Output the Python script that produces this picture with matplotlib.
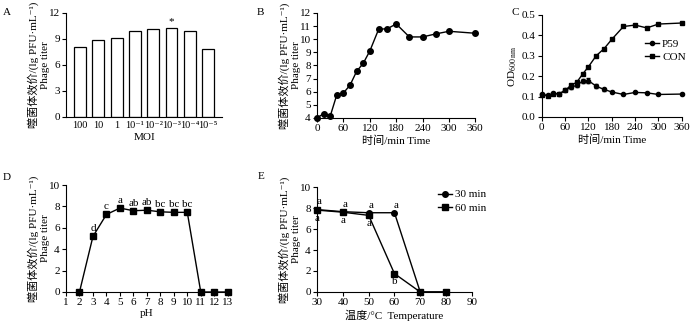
import matplotlib

matplotlib.use("Agg")
import matplotlib.pyplot as plt  # noqa: E402

plt.rcParams["font.family"] = ["Liberation Serif", "Noto Sans CJK SC", "DejaVu Serif"]
plt.rcParams["mathtext.fontset"] = "stix"
plt.rcParams["font.size"] = 8
plt.rcParams["axes.linewidth"] = 0.8
plt.rcParams["xtick.major.size"] = 3
plt.rcParams["ytick.major.size"] = 3
plt.rcParams["xtick.major.pad"] = 1.5
plt.rcParams["ytick.major.pad"] = 1.5

# A: MOI
moi_labels = ["100", "10", "1", "10⁻¹", "10⁻²", "10⁻³", "10⁻⁴", "10⁻⁵"]
moi_titer = [8.1, 8.93, 9.08, 9.89, 10.15, 10.27, 9.96, 7.79]

# B: one-step growth
growth_time = [0, 15, 30, 45, 60, 75, 90, 105, 120, 140, 160, 180, 210, 240, 270, 300, 360]
growth_titer = [4.0, 4.33, 4.15, 5.78, 5.9, 6.5, 7.55, 8.16, 9.1, 10.75, 10.8, 11.16,
                10.17, 10.17, 10.4, 10.6, 10.45]

# C: lysis curve
od_time = [0, 15, 30, 45, 60, 75, 90, 105, 120, 140, 160, 180, 210, 240, 270, 300, 360]
od_p59 = [0.11, 0.105, 0.115, 0.112, 0.13, 0.145, 0.155, 0.175, 0.178, 0.15, 0.135,
          0.122, 0.11, 0.12, 0.118, 0.11, 0.112]
od_p59_err = [0.004, 0.003, 0.004, 0.003, 0.005, 0.006, 0.008, 0.01, 0.012, 0.01, 0.006,
              0.004, 0.003, 0.003, 0.003, 0.003, 0.003]
od_con = [0.109, 0.103, 0.114, 0.114, 0.13, 0.155, 0.17, 0.21, 0.246, 0.30, 0.334,
          0.38, 0.443, 0.45, 0.436, 0.455, 0.46]

# D: pH stability
ph = [2, 3, 4, 5, 6, 7, 8, 9, 10, 11, 12, 13]
ph_titer = [0, 5.2, 7.25, 7.85, 7.6, 7.65, 7.5, 7.45, 7.45, 0, 0, 0]
ph_letters = ["", "d", "c", "a", "ab", "ab", "bc", "bc", "bc", "", "", ""]

# E: thermal stability
temp = [30, 40, 50, 60, 70, 80]
temp_30 = [7.85, 7.65, 7.55, 7.55, 0, 0]
temp_60 = [7.8, 7.6, 7.3, 1.75, 0, 0]
letters_30 = ["a", "a", "a", "a", "", ""]
letters_60 = ["a", "a", "a", "b", "", ""]

YLABEL = "噬菌体效价/(lg PFU·mL⁻¹)\nPhage titer"

fig = plt.figure(figsize=(7, 3.23), dpi=100)
axA = fig.add_axes([0.0943, 0.638, 0.223, 0.322])
axB = fig.add_axes([0.453, 0.635, 0.226, 0.325])
axC = fig.add_axes([0.774, 0.638, 0.200, 0.316])
axD = fig.add_axes([0.0943, 0.096, 0.231, 0.331])
axE = fig.add_axes([0.453, 0.096, 0.221, 0.325])

for ax in (axA, axB, axC, axD, axE):
    ax.spines["top"].set_visible(False)
    ax.spines["right"].set_visible(False)

# A
xs = list(range(len(moi_titer)))
axA.bar(xs, moi_titer, width=0.65, color="white", edgecolor="black", linewidth=0.9)
axA.text(5, moi_titer[5] + 0.2, "*", ha="center", va="bottom", fontsize=8)
axA.set_xticks(xs)
axA.set_xticklabels(moi_labels, fontsize=7.5)
axA.tick_params(axis="x", length=0, pad=3)
axA.set_xlim(-0.77, 7.77)
axA.set_ylim(0, 12)
axA.set_yticks([0, 3, 6, 9, 12])
axA.set_xlabel("MOI", labelpad=2)
axA.set_ylabel(YLABEL, linespacing=1.3, labelpad=-1)

# B
axB.plot(growth_time, growth_titer, "-o", color="black", ms=4, lw=1, clip_on=False)
axB.set_xlim(0, 360)
axB.set_ylim(4, 12)
axB.set_xticks(range(0, 361, 60))
axB.set_yticks(range(4, 13))
axB.set_xlabel("时间/min Time", labelpad=2)
axB.set_ylabel(YLABEL, linespacing=1.3, labelpad=-1)

# C
p59 = axC.errorbar(od_time, od_p59, yerr=od_p59_err, fmt="-o", color="black", ms=3, lw=1,
                   capsize=1.5, elinewidth=0.8, clip_on=False)
con, = axC.plot(od_time, od_con, "-s", color="black", ms=3, lw=1, clip_on=False)
axC.set_xlim(0, 360)
axC.set_ylim(0, 0.5)
axC.set_xticks(range(0, 361, 60))
axC.set_yticks([0.0, 0.1, 0.2, 0.3, 0.4, 0.5])
axC.set_yticklabels(["0.0", "0.1", "0.2", "0.3", "0.4", "0.5"])
axC.set_xlabel("时间/min Time", labelpad=2)
axC.set_ylabel("OD$_{600\\ \\mathrm{nm}}$", labelpad=2)
axC.legend([p59.lines[0], con], ["P59", "CON"], loc="upper right",
           bbox_to_anchor=(1.1, 0.86), frameon=False,
           handlelength=1.2, handletextpad=0.3, labelspacing=0.3, fontsize=8)

# D
axD.plot(ph, ph_titer, "-s", color="black", ms=4, lw=1, clip_on=False)
for x, y, t in zip(ph, ph_titer, ph_letters):
    if t:
        axD.text(x, y + 0.3, t, ha="center", va="bottom", fontsize=8)
axD.set_xlim(1, 13)
axD.set_ylim(0, 10)
axD.set_xticks(range(1, 14))
axD.set_yticks(range(0, 11, 2))
axD.set_xlabel("pH", labelpad=1)
axD.set_ylabel(YLABEL, linespacing=1.3, labelpad=-1)

# E
axE.plot(temp, temp_30, "-o", color="black", ms=4, lw=1, label="30 min", clip_on=False)
axE.plot(temp, temp_60, "-s", color="black", ms=4, lw=1, label="60 min", clip_on=False)
for x, y, t in zip(temp, temp_30, letters_30):
    if t:
        axE.text(x + 0.8, y + 0.3, t, ha="center", va="bottom", fontsize=8)
for x, y, t in zip(temp, temp_60, letters_60):
    if t:
        axE.text(x, y - 0.35, t, ha="center", va="top", fontsize=8)
axE.set_xlim(30, 90)
axE.set_ylim(0, 10)
axE.set_xticks(range(30, 91, 10))
axE.set_yticks(range(0, 11, 2))
axE.set_xlabel("温度/°C  Temperature", labelpad=2)
axE.set_ylabel(YLABEL, linespacing=1.3, labelpad=-1)
axE.legend(loc="upper left", bbox_to_anchor=(0.72, 1.07), frameon=False,
           handlelength=1.2, handletextpad=0.3, labelspacing=0.3, fontsize=8)

# panel letters
for label, x, y in [("A", 0.004, 0.96), ("B", 0.367, 0.96), ("C", 0.731, 0.96),
                    ("D", 0.004, 0.45), ("E", 0.368, 0.455)]:
    fig.text(x, y, label, fontsize=8, va="center")

fig.savefig("out.png", dpi=100)
